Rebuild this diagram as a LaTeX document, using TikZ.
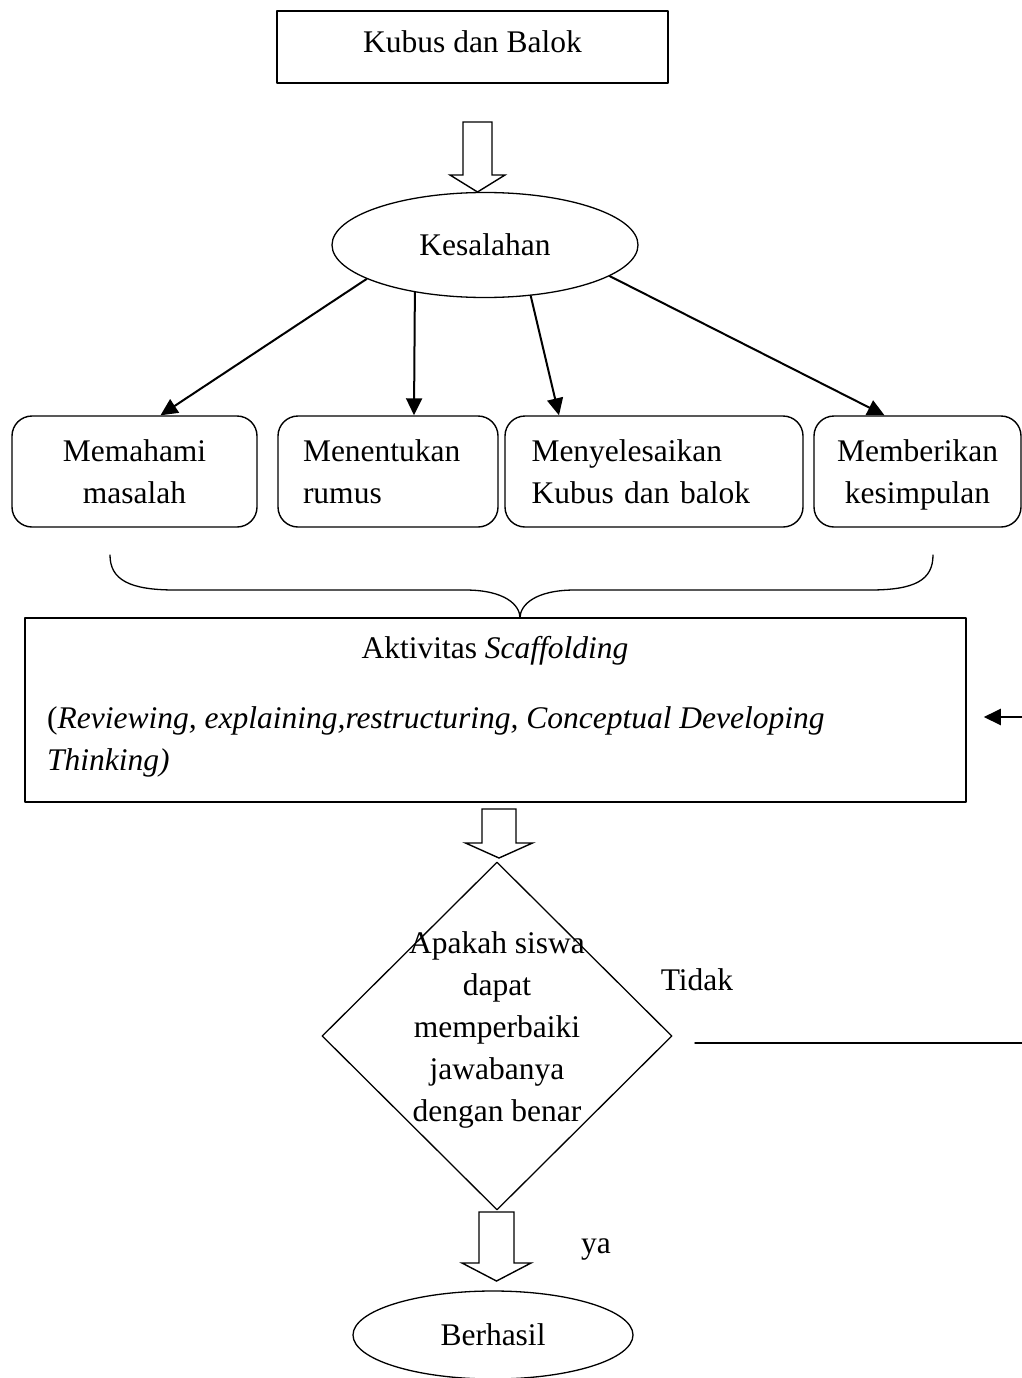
\documentclass[tikz,border=0pt]{standalone}
\usepackage{fontspec}
\setmainfont{Liberation Serif}
\usetikzlibrary{arrows.meta,shapes.geometric,calc}

\tikzset{
  tulis/.style={inner sep=0pt},
  kotak/.style={draw,line width=1.5pt,inner sep=0pt},
  bulat/.style={draw,ellipse,line width=1.3pt,inner sep=0pt},
  langkah/.style={draw,rounded corners=20pt,line width=1.4pt,minimum height=111pt,inner sep=0pt},
  tanya/.style={draw,diamond,line width=1.3pt,inner sep=0pt,minimum width=350pt,minimum height=348pt},
  panah/.style={line width=2pt,-{Triangle[length=17pt,width=16pt]}},
  blok/.style={draw,line width=1.4pt,fill=white,line join=miter}
}
% hollow block arrow: x, top, head, tip, half shaft, half head
\newcommand{\blokpanah}[6]{%
  \draw[blok] (#1-#5,#2) -- (#1+#5,#2) -- (#1+#5,#3) -- (#1+#6,#3)
    -- (#1,#4) -- (#1-#6,#3) -- (#1-#5,#3) -- cycle;}

\begin{document}
\begin{tikzpicture}[x=1pt,y=-1pt,font=\fontsize{31.5}{42}\selectfont,line cap=round,line join=round]
  \useasboundingbox (0,0) rectangle (1022,1378);

  % Topic and errors.
  \node[kotak,minimum width=391pt,minimum height=72pt,text depth=10pt] (judul) at (472.5,47) {Kubus dan Balok};
  \blokpanah{477.5}{122}{175}{192}{14.5}{27.5}
  \node[bulat,minimum width=306pt,minimum height=105pt] (salah) at (485,245) {Kesalahan};

  % Four steps.
  \node[langkah,minimum width=245pt,align=center] (paham) at (134.5,471.5) {Memahami\\masalah};
  \node[langkah,minimum width=220pt,text width=170pt,align=left] (rumus) at (388,471.5) {Menentukan\\rumus};
  \node[langkah,minimum width=298pt,text width=245pt,align=left] (selesai) at (654,471.5) {Menyelesaikan\\Kubus dan balok};
  \node[langkah,minimum width=207pt,align=center,text depth=0pt] (simpul) at (917.5,471.5) {Memberikan\\kesimpulan};

  \draw[panah] (salah.196) -- ($(paham.north)+(26,0)$);
  \draw[panah] (salah.214) -- ($(rumus.north)+(26,0)$);
  \draw[panah] (salah.312) -- ($(selesai.north)+(-95,0)$);
  \draw[panah] (salah.346) -- ($(simpul.north)+(-33,0)$);

  % Brace over the steps.
  \draw[line width=1.3pt] (110,555) .. controls (110,580) and (130,590) .. (175,590) -- (465,590)
    .. controls (505,590) and (520,605) .. (520,618)
    .. controls (520,605) and (535,590) .. (575,590) -- (870,590)
    .. controls (915,590) and (933,580) .. (933,555);

  % Scaffolding activity.
  \node[kotak,minimum width=941pt,minimum height=184pt] (aktivitas) at (495.5,710) {};
  \node[tulis,anchor=base] (judulakt) at (495,658) {Aktivitas \textit{Scaffolding}};
  \node[tulis,anchor=base west] (isiakt) at (47,728) {(\textit{Reviewing, explaining,restructuring, Conceptual Developing}};
  \node[tulis,anchor=base west] (isiakt2) at (47,770) {\textit{Thinking)}};

  % Decision.
  \blokpanah{499}{809}{843}{858}{17}{33.5}
  \node[tanya] (cek) at (497,1036) {};
  \node[tulis,align=center] (cektulis) at (497,1030) {Apakah siswa\\dapat\\memperbaiki\\jawabanya\\dengan benar};
  \node[tulis,anchor=base] (tidak) at (697,990) {Tidak};

  % Back to the activity.
  \coordinate (kiri) at (695,1043);
  \coordinate (kanan) at (1022,1043);
  \coordinate (masuk) at (1022,717);
  \draw[line width=1.4pt] (kiri) -- (kanan);
  \draw[panah,shorten >=17pt] (masuk) -- (aktivitas.east |- masuk);

  % Success.
  \blokpanah{496.5}{1212}{1263}{1281}{17.5}{34.5}
  \node[tulis,anchor=base] (ya) at (596,1253) {ya};
  \node[bulat,minimum width=280pt,minimum height=88pt] (hasil) at (493,1335) {Berhasil};
\end{tikzpicture}
\end{document}
